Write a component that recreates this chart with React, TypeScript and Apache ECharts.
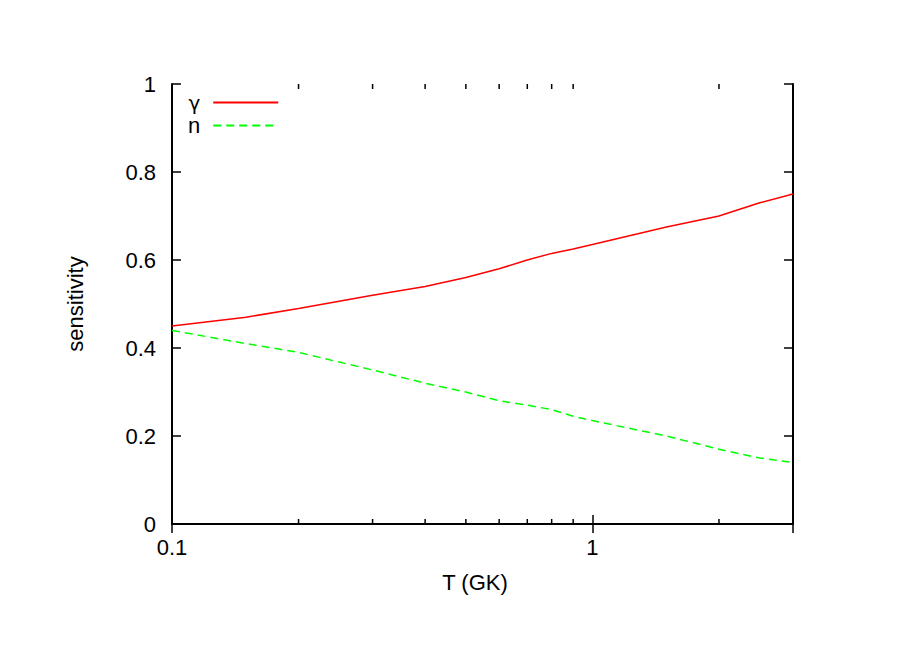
import React, { useEffect, useRef } from "react";
import * as echarts from "echarts";

const temperatures = [0.1, 0.15, 0.2, 0.3, 0.4, 0.5, 0.6, 0.7, 0.8, 0.9, 1, 1.5, 2, 2.5, 3];
const gammaSens = [0.45, 0.47, 0.49, 0.52, 0.54, 0.56, 0.58, 0.6, 0.615, 0.625, 0.635, 0.675, 0.7, 0.73, 0.75];
const neutronSens = [0.44, 0.41, 0.39, 0.35, 0.32, 0.3, 0.28, 0.27, 0.26, 0.245, 0.235, 0.2, 0.17, 0.15, 0.14];
const xMajorLabels = [0.1, 1];
const xMinorTicks = [0.2, 0.3, 0.4, 0.5, 0.6, 0.7, 0.8, 0.9, 2];
const seriesNames = ["γ", "n"];

const FONT = "'Liberation Sans', Arial, Helvetica, sans-serif";

export default function App() {
  const ref = useRef<HTMLDivElement>(null);
  useEffect(() => {
    if (!ref.current) return;
    const chart = echarts.init(ref.current, null, { renderer: "svg" });
    const axisLine = { show: true, lineStyle: { color: "#000", width: 2 } };
    const tickStyle = { show: true, inside: true, length: 9, lineStyle: { color: "#000", width: 1.5 } };
    const xLabelFmt = (v: number) => {
      const hit = xMajorLabels.find((m) => Math.abs(m - v) < 1e-9);
      return hit !== undefined ? String(hit) : "";
    };
    chart.setOption({
      animation: false,
      textStyle: { fontFamily: FONT },
      grid: { left: 172, right: 120, top: 84, bottom: 122, containLabel: false },
      legend: {
        data: seriesNames,
        orient: "vertical",
        align: "right",
        left: 183,
        top: 86,
        itemWidth: 65,
        itemHeight: 14,
        itemGap: 0,
        itemStyle: { opacity: 0 },
        formatter: (name: string) => (name === "γ" ? "{g|γ}" : name),
        textStyle: {
          fontFamily: FONT,
          fontSize: 22,
          color: "#000",
          padding: [0, 8, 0, 0],
          lineHeight: 23,
          rich: { g: { fontFamily: "'DejaVu Sans', sans-serif", fontSize: 20, color: "#000", lineHeight: 23 } },
        },
      },
      xAxis: [
        {
          type: "log",
          logBase: 10,
          min: 0.1,
          max: 3,
          position: "bottom",
          axisLine,
          axisTick: tickStyle,
          splitLine: { show: false },
          axisLabel: {
            formatter: xLabelFmt,
            showMaxLabel: false,
            margin: 12,
            fontSize: 22,
            color: "#000",
            fontFamily: FONT,
          },
          name: "T (GK)",
          nameLocation: "middle",
          nameGap: 47,
          nameTextStyle: { fontSize: 22, color: "#000", fontFamily: FONT, padding: [0, 15, 0, 0] },
        },
        {
          type: "log",
          logBase: 10,
          min: 0.1,
          max: 3,
          position: "top",
          axisLine,
          axisTick: tickStyle,
          splitLine: { show: false },
          axisLabel: { show: false },
        },
      ],
      yAxis: [
        {
          type: "value",
          min: 0,
          max: 1,
          interval: 0.2,
          position: "left",
          axisLine,
          axisTick: tickStyle,
          splitLine: { show: false },
          axisLabel: { margin: 16, fontSize: 22, color: "#000", fontFamily: FONT },
          name: "sensitivity",
          nameLocation: "middle",
          nameGap: 86,
          nameTextStyle: { fontSize: 22, color: "#000", fontFamily: FONT },
        },
        {
          type: "value",
          min: 0,
          max: 1,
          interval: 0.2,
          position: "right",
          axisLine,
          axisTick: tickStyle,
          splitLine: { show: false },
          axisLabel: { show: false },
        },
      ],
      series: [
        {
          name: seriesNames[0],
          type: "line",
          symbol: "none",
          data: temperatures.map((t, i) => [t, gammaSens[i]]),
          lineStyle: { color: "#ff0000", width: 1.5 },
          itemStyle: { color: "#ff0000" },
          z: 3,
        },
        {
          name: seriesNames[1],
          type: "line",
          symbol: "none",
          data: temperatures.map((t, i) => [t, neutronSens[i]]),
          lineStyle: { color: "#00ff00", width: 1.5, type: [8, 5] },
          itemStyle: { color: "#00ff00" },
          z: 3,
        },
        {
          name: "minorTicks",
          type: "custom",
          silent: true,
          clip: false,
          data: xMinorTicks.map((v) => [v, 0]),
          renderItem: (_params: any, api: any) => {
            const v = api.value(0);
            const bottom = api.coord([v, 0]);
            const top = api.coord([v, 1]);
            const style = { stroke: "#000", lineWidth: 1.5 };
            return {
              type: "group",
              children: [
                { type: "line", shape: { x1: bottom[0], y1: bottom[1], x2: bottom[0], y2: bottom[1] - 5 }, style },
                { type: "line", shape: { x1: top[0], y1: top[1], x2: top[0], y2: top[1] + 5 }, style },
              ],
            };
          },
          z: 4,
        },
      ],
    });
    return () => chart.dispose();
  }, []);
  return (
    <div
      ref={ref}
      style={{ position: "fixed", left: 0, top: 0, width: 913, height: 646, background: "#fff" }}
    />
  );
}
